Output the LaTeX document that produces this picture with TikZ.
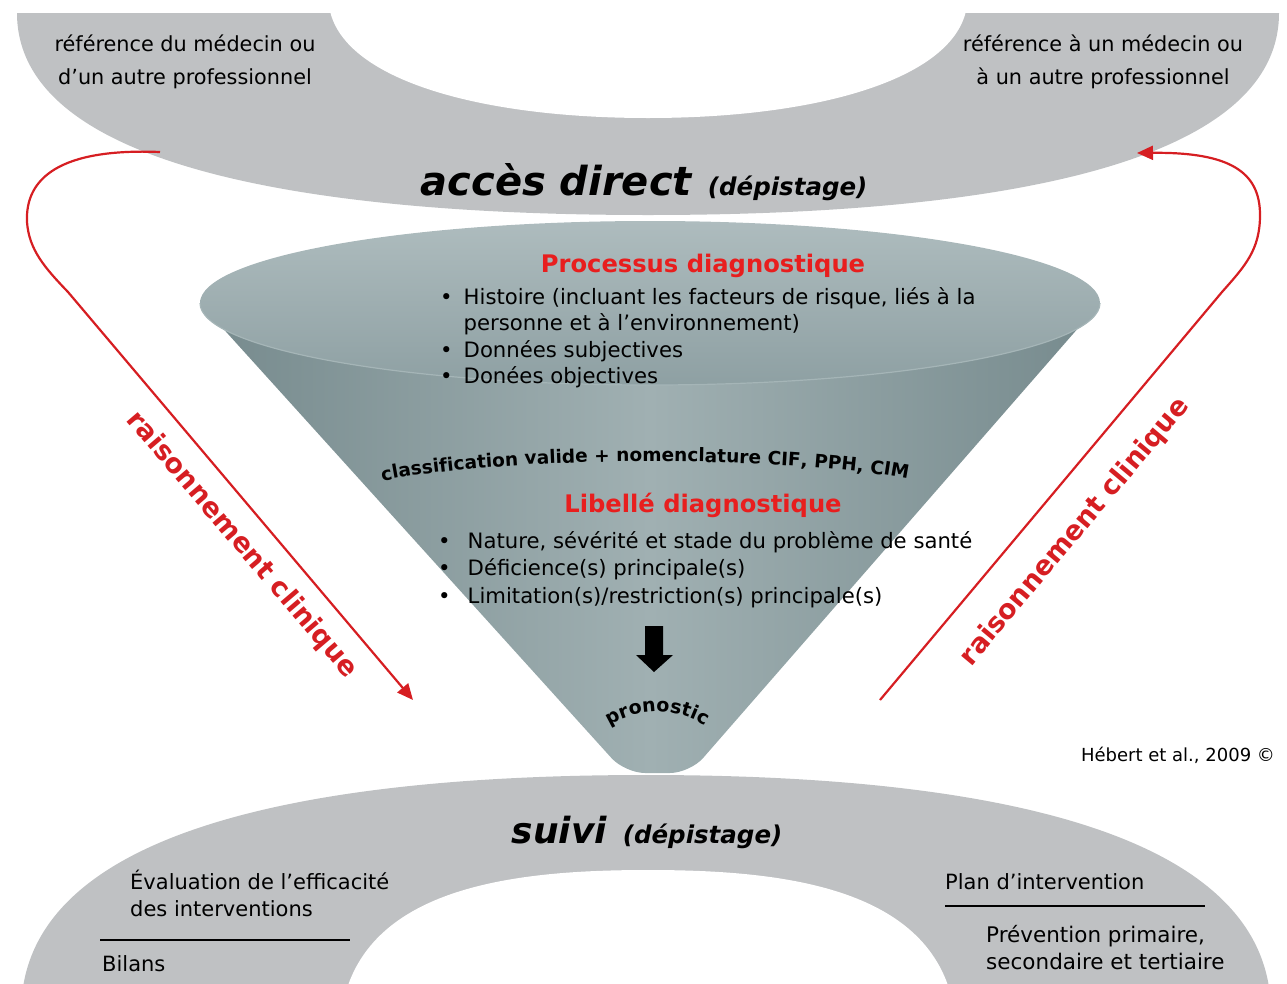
\documentclass[tikz,border=0pt]{standalone}
\usepackage{fontspec}
\setmainfont{DejaVu Sans}
\usetikzlibrary{arrows.meta,decorations.text}
\definecolor{bandgrey}{RGB}{191,193,195}
\definecolor{conedark}{RGB}{118,138,141}
\definecolor{conemid}{RGB}{160,176,178}
\definecolor{conetop}{RGB}{174,188,190}
\definecolor{coneinner}{RGB}{142,160,163}
\definecolor{rimlight}{RGB}{165,181,183}
\definecolor{reasonred}{RGB}{214,30,34}
\definecolor{headred}{RGB}{232,30,30}
\begin{document}
\begin{tikzpicture}[x=1pt,y=-1pt,
  plain/.style={inner sep=0pt, font=\fontsize{20.8}{33}\selectfont},
  listtext/.style={inner sep=0pt, font=\fontsize{21.2}{26.5}\selectfont},
  bandtext/.style={inner sep=0pt, font=\fontsize{21}{27}\selectfont},
  heading/.style={inner sep=0pt, text=headred, font=\fontsize{24.2}{25}\selectfont\bfseries},
  reasoning/.style={draw=reasonred, line width=2.2pt, -{Triangle[length=16pt,width=14pt]}},
  reasontext/.style={inner sep=0pt, text=reasonred, font=\fontsize{27}{27}\selectfont\bfseries},
  rule/.style={draw=black, line width=1.4pt}]
\useasboundingbox (0,0) rectangle (1287,983);

% top band: access
\fill[bandgrey] (17,13) -- (1279,13) .. controls (1279,170) and (976,215) .. (648,215)
  .. controls (320,215) and (17,170) .. (17,13) -- cycle;
\fill[white] (330,11) .. controls (346,80) and (480,118) .. (648,118)
  .. controls (816,118) and (950,80) .. (966,11) -- cycle;

% bottom band: follow-up
\fill[bandgrey] (22,995) .. controls (40,820) and (340,775) .. (646,775)
  .. controls (952,775) and (1252,820) .. (1270,995) -- cycle;
\fill[white] (345,995) .. controls (375,885) and (520,870) .. (648,870)
  .. controls (776,870) and (921,885) .. (951,995) -- cycle;

% funnel
\shade[left color=conedark, right color=conedark, middle color=conemid, rounded corners=20pt]
  (200,303) -- (625,773) -- (690,773) -- (1100,303) -- cycle;
\shade[top color=conetop, bottom color=coneinner] (650,303) ellipse [x radius=450, y radius=82];
\draw[rimlight, line width=1.2pt] (200,303) arc[start angle=180, end angle=0, x radius=450, y radius=82];

% texts of the top band
\node[plain, align=center] (refL) at (185,62) {référence du médecin ou\\d’un autre professionnel};
\node[plain, align=center] (refR) at (1103,62) {référence à un médecin ou\\à un autre professionnel};
\node[inner sep=0pt, anchor=base] (acces) at (644,195)
  {{\fontsize{40}{40}\selectfont\bfseries\itshape accès direct}\hspace{16pt}{\fontsize{24.5}{25}\selectfont\bfseries\itshape (dépistage)}};

% diagnostic process
\node[heading] (proc) at (703,266) {Processus diagnostique};
\node[listtext, anchor=base west] (proclist) at (440,304)
  {\begin{tabular}[t]{@{}l@{\hspace{11pt}}l@{}}
   \textbullet & Histoire (incluant les facteurs de risque, liés à la\\
   & personne et à l’environnement)\\
   \textbullet & Données subjectives\\
   \textbullet & Donées objectives
   \end{tabular}};

\path[decorate, decoration={text along path, text align=center,
  text={|\fontsize{18.5}{18.5}\selectfont\bfseries|classification valide + nomenclature CIF, PPH, CIM}}]
  (378,482) .. controls (500,455) and (790,455) .. (912,480);

\node[heading] (libelle) at (703,505) {Libellé diagnostique};
\node[listtext, anchor=base west] (liblist) at (438,548)
  {\begin{tabular}[t]{@{}l@{\hspace{17pt}}l@{}}
   \textbullet & Nature, sévérité et stade du problème de santé\\[1pt]
   \textbullet & Déficience(s) principale(s)\\[1pt]
   \textbullet & Limitation(s)/restriction(s) principale(s)
   \end{tabular}};

% block arrow towards the prognosis
\fill[black] (645,626) -- (663,626) -- (663,655) -- (673,655) -- (654,672) -- (636,655) -- (645,655) -- cycle;
\path[decorate, decoration={text along path, text align=center,
  text={|\fontsize{19}{19}\selectfont\bfseries|pronostic}}]
  (596,736) .. controls (630,704) and (685,704) .. (718,736);

% clinical reasoning loops
\coordinate (lstart) at (160,152);
\coordinate (lend) at (413,700);
\coordinate (rstart) at (880,700);
\coordinate (rend) at (1137,153);
\draw[reasoning] (lstart) .. controls (60,148) and (25,178) .. (27,222)
  .. controls (29,250) and (45,268) .. (68,292) -- (lend);
\draw[reasoning] (rstart) -- (1222,292) .. controls (1245,266) and (1260,250) .. (1260,215)
  .. controls (1260,172) and (1230,152) .. (rend);
\node[reasontext, rotate=-49.5] (rcl) at (242,545) {raisonnement clinique};
\node[reasontext, rotate=50] (rcr) at (1075,532) {raisonnement clinique};

\node[inner sep=0pt, font=\fontsize{18}{18}\selectfont] (credit) at (1178,755) {Hébert et al., 2009 ©};

% texts of the bottom band
\node[inner sep=0pt, anchor=base] (suivi) at (647,843)
  {{\fontsize{36}{36}\selectfont\bfseries\itshape suivi}\hspace{16pt}{\fontsize{24.5}{25}\selectfont\bfseries\itshape (dépistage)}};
\node[bandtext, align=left, anchor=base west] (eval) at (130,916)
  {Évaluation de l’efficacité\\des interventions};
\coordinate (rl1) at (100,940);
\coordinate (rl2) at (350,940);
\draw[rule] (rl1) -- (rl2);
\node[bandtext, anchor=base west] (bilans) at (102,971) {Bilans};

\node[bandtext, anchor=base west] (plan) at (945,889) {Plan d’intervention};
\coordinate (rr1) at (945,906);
\coordinate (rr2) at (1205,906);
\draw[rule] (rr1) -- (rr2);
\node[bandtext, align=left, anchor=base west, font=\fontsize{21.5}{27}\selectfont] (prev) at (986,969)
  {Prévention primaire,\\secondaire et tertiaire};
\end{tikzpicture}
\end{document}
